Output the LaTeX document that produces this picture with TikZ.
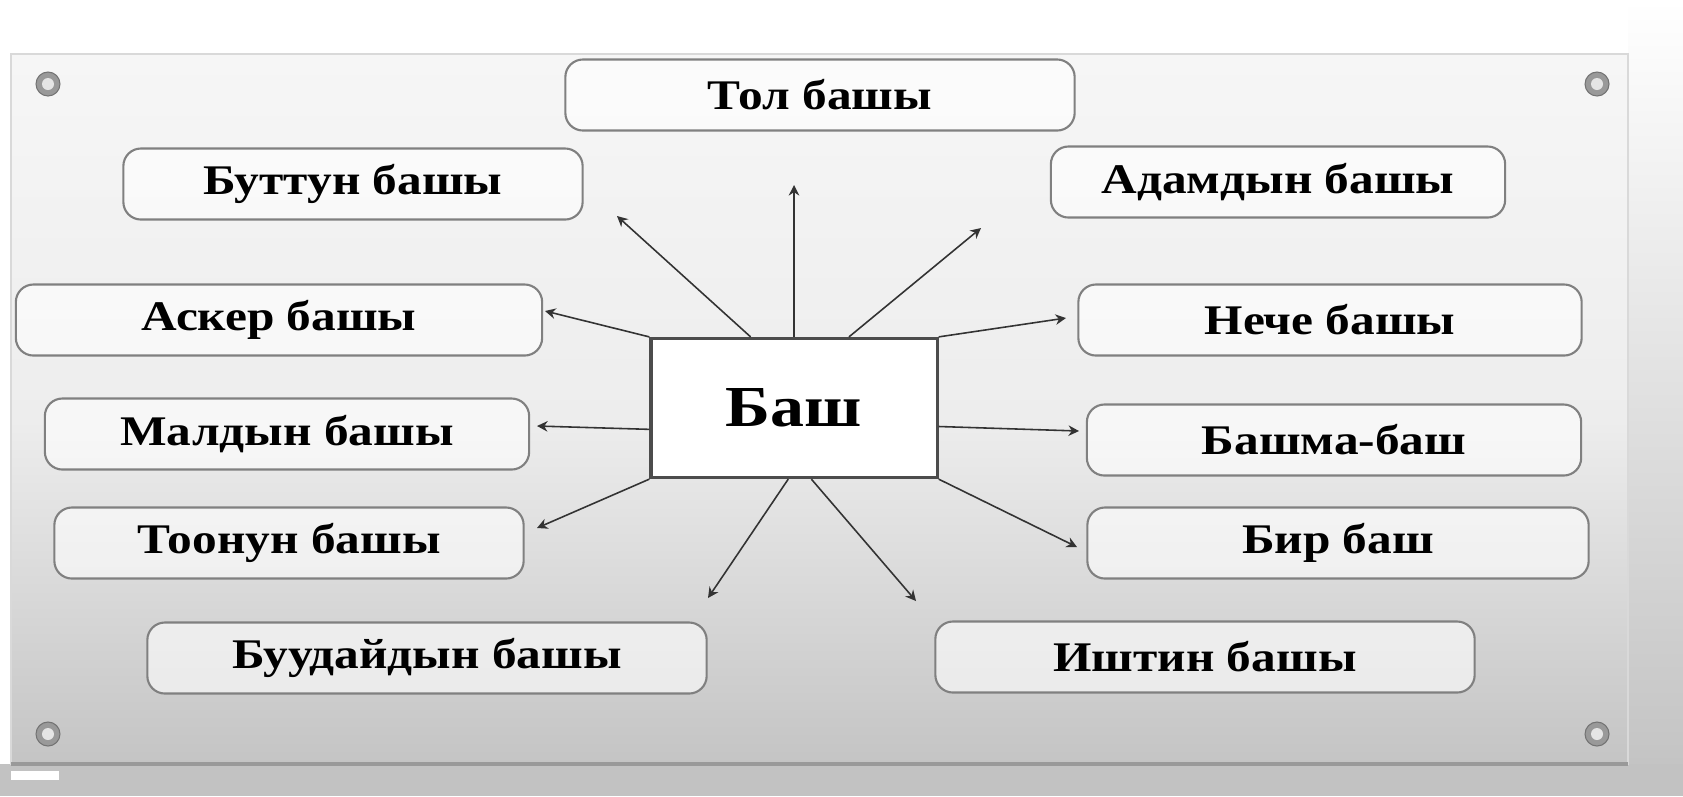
\documentclass[tikz,border=0pt]{standalone}
\usepackage{fontspec}
\setmainfont{Liberation Serif}[FakeStretch=1.17]
\usetikzlibrary{arrows.meta,calc}
\definecolor{boardtop}{HTML}{F6F6F6}
\definecolor{boardmid}{HTML}{EDEDED}
\definecolor{boardlow}{HTML}{C4C4C4}
\definecolor{floor}{HTML}{C2C2C2}
\tikzset{
  word/.style={draw=black!50, line width=0.6pt, rounded corners=5pt, fill=white,
    fill opacity=0.6, text opacity=1, minimum height=0.71cm,
    font=\fontsize{12}{14}\selectfont\bfseries},
  hub/.style={draw=black!70, line width=0.9pt, fill=white, minimum width=2.86cm,
    minimum height=1.39cm, font=\fontsize{16.5}{19}\selectfont\bfseries},
  arrow/.style={-{Stealth[length=3pt,width=3pt]}, line width=0.45pt, draw=black!80},
  screw/.style={fill=black!40, draw=black!55, line width=0.3pt},
}

\begin{document}
\begin{tikzpicture}[x=0.01cm,y=-0.01cm]
  \useasboundingbox (0,0) rectangle (1683,796);
  % board and wall
  \fill[white] (0,0) rectangle (1683,796);
  \shade[top color=white, bottom color=boardlow] (1628,0) rectangle (1683,764);
  \fill[floor] (0,764) rectangle (1683,796);
  \fill[white] (11,771) rectangle (59,780);
  \shade[top color=boardtop, bottom color=boardmid] (11,54) rectangle (1628,420);
  \shade[top color=boardmid, bottom color=boardlow] (11,420) rectangle (1628,764);
  \draw[black!15, line width=0.5pt] (11,54) rectangle (1628,764);
  \draw[black!40, line width=1.2pt] (11,764) -- (1628,764);
  \foreach \sx/\sy in {48/84, 1597/84, 48/734, 1597/734}{
    \fill[screw] (\sx,\sy) circle (12);
    \fill[black!10] (\sx,\sy) circle (6);
  }

  % words
  \node[hub] (bash) at (794,408) {Баш};
  \node[word, minimum width=5.09cm] (tol)    at (820,95)   {Тол башы};
  \node[word, minimum width=4.59cm] (buttun) at (353,184)  {Буттун башы};
  \node[word, minimum width=4.54cm] (adam)   at (1278,182) {Адамдын башы};
  \node[word, minimum width=5.26cm] (asker)  at (279,320)  {Аскер башы};
  \node[word, minimum width=5.03cm] (neche)  at (1330,320) {Нече башы};
  \node[word, minimum width=4.84cm] (mal)    at (287,434)  {Малдын башы};
  \node[word, minimum width=4.94cm] (bashma) at (1334,440) {Башма-баш};
  \node[word, minimum width=4.69cm] (toonun) at (289,543)  {Тоонун башы};
  \node[word, minimum width=5.01cm] (bir)    at (1338,543) {Бир баш};
  \node[word, minimum width=5.59cm] (buudai) at (427,658)  {Буудайдын башы};
  \node[word, minimum width=5.39cm] (ishtin) at (1205,657) {Иштин башы};

  % arrow ends
  \coordinate (tol-end)    at (794,185);
  \coordinate (buttun-end) at (617,216);
  \coordinate (adam-end)   at (981,228);
  \coordinate (asker-end)  at (545,311);
  \coordinate (neche-end)  at (1066,318);
  \coordinate (mal-end)    at (537,426);
  \coordinate (bashma-end) at (1079,431);
  \coordinate (toonun-end) at (537,528);
  \coordinate (bir-end)    at (1077,547);
  \coordinate (buudai-end) at (708,598);
  \coordinate (ishtin-end) at (916,601);

  % arrow starts on the hub
  \coordinate (tol-start)    at (bash.north);
  \coordinate (buttun-start) at ($(bash.north west)!0.35!(bash.north east)$);
  \coordinate (adam-start)   at ($(bash.north west)!0.69!(bash.north east)$);
  \coordinate (asker-start)  at (bash.north west);
  \coordinate (neche-start)  at (bash.north east);
  \coordinate (mal-start)    at ($(bash.north west)!0.65!(bash.south west)$);
  \coordinate (bashma-start) at ($(bash.north east)!0.63!(bash.south east)$);
  \coordinate (toonun-start) at (bash.south west);
  \coordinate (bir-start)    at (bash.south east);
  \coordinate (buudai-start) at ($(bash.south west)!0.48!(bash.south east)$);
  \coordinate (ishtin-start) at ($(bash.south west)!0.56!(bash.south east)$);

  \foreach \w in {tol,buttun,adam,asker,neche,mal,bashma,toonun,bir,buudai,ishtin}{
    \draw[arrow] (\w-start) -- (\w-end);
  }
\end{tikzpicture}
\end{document}
